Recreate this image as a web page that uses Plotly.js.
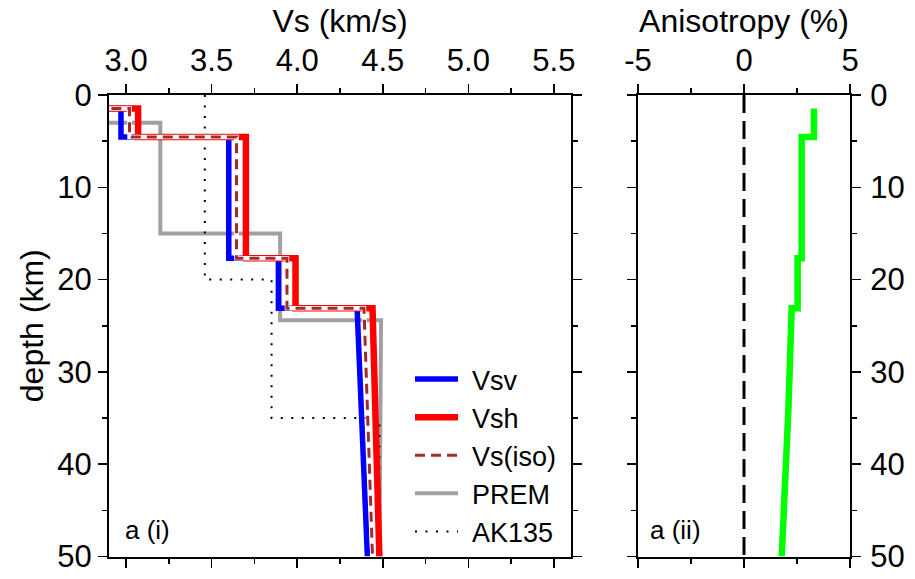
<!DOCTYPE html>
<html>
<head>
<meta charset="utf-8">
<script src="https://cdn.plot.ly/plotly-3.0.1.min.js"></script>
<style>
  html, body { margin: 0; padding: 0; background: #ffffff; }
  #chart { width: 915px; height: 579px; }
</style>
</head>
<body>
<div id="chart"></div>
<script>
// Layered shear-velocity model: each layer has a top depth and velocities at its top and bottom.
const layerTop   = [0, 1.45, 4.55, 17.7, 23.1];
const modelBase  = 50;
const vsvTop     = [0, 2.97, 3.60, 3.89, 4.35];
const vsvBottom  = [0, 2.97, 3.60, 3.89, 4.41];
const vshTop     = [0, 3.07, 3.70, 3.99, 4.44];
const vshBottom  = [0, 3.07, 3.70, 3.99, 4.48];
const visoTop    = [0, 3.02, 3.645, 3.94, 4.39];
const visoBottom = [0, 3.02, 3.645, 3.94, 4.44];

// Reference Earth models
const premTop    = [0, 3, 15, 24.4];
const premVsTop  = [0, 3.2, 3.9, 4.49];
const premVsBot  = [0, 3.2, 3.9, 4.48];
const akTop      = [0, 20, 35];
const akVs       = [3.46, 3.85, 4.48];

// Radial anisotropy (%) by layer
const anisoTop    = [1.45, 4.55, 17.7, 23.1, 34.3];
const anisoValTop = [3.30, 2.72, 2.53, 2.25, 2.09];
const anisoValBot = [3.30, 2.72, 2.53, 2.09, 1.78];
const isotropicRef = 0;

// Axis tick labels
const vsTicks      = [3.0, 3.5, 4.0, 4.5, 5.0, 5.5];
const vsTickText   = ['3.0', '3.5', '4.0', '4.5', '5.0', '5.5'];
const anisoTicks   = [-5, 0, 5];
const anisoTickText = ['-5', '0', '5'];
const depthTicks   = [0, 10, 20, 30, 40, 50];

// Turn a layered description into a staircase path (x = value, y = depth).
function staircase(tops, base, valTop, valBot) {
  const x = [], y = [];
  for (let i = 0; i < tops.length; i++) {
    const bottom = i + 1 < tops.length ? tops[i + 1] : base;
    x.push(valTop[i], valBot[i]);
    y.push(tops[i], bottom);
  }
  return { x, y };
}

const vsv  = staircase(layerTop, modelBase, vsvTop, vsvBottom);
const vsh  = staircase(layerTop, modelBase, vshTop, vshBottom);
const viso = staircase(layerTop, modelBase, visoTop, visoBottom);
const prem = staircase(premTop, modelBase, premVsTop, premVsBot);
const ak   = staircase(akTop, modelBase, akVs, akVs);
const aniso = staircase(anisoTop, modelBase, anisoValTop, anisoValBot);

const FONT = 'Liberation Sans, Arial, Helvetica, sans-serif';

const traces = [
  { x: prem.x, y: prem.y, mode: 'lines', name: 'PREM', legendrank: 4,
    line: { color: '#a0a0a0', width: 4 } },
  { x: ak.x, y: ak.y, mode: 'lines', name: 'AK135', legendrank: 5,
    line: { color: '#000000', width: 2, dash: '2px,8.5px' } },
  { x: vsv.x, y: vsv.y, mode: 'lines', name: 'Vsv', legendrank: 1,
    line: { color: '#0000ff', width: 5.5 } },
  { x: vsh.x, y: vsh.y, mode: 'lines', name: 'Vsh', legendrank: 2,
    line: { color: '#ff0000', width: 6.5 } },
  { x: viso.x, y: viso.y, mode: 'lines', showlegend: false, hoverinfo: 'skip',
    line: { color: '#ffffff', width: 4.5 } },
  { x: viso.x, y: viso.y, mode: 'lines', name: 'Vs(iso)', legendrank: 3,
    line: { color: '#a52a2a', width: 3, dash: '10px,6px' } },
  { x: [isotropicRef, isotropicRef], y: [0, modelBase], mode: 'lines', showlegend: false,
    xaxis: 'x2', yaxis: 'y2', line: { color: '#000000', width: 3, dash: '18px,8px' } },
  { x: aniso.x, y: aniso.y, mode: 'lines', showlegend: false,
    xaxis: 'x2', yaxis: 'y2', line: { color: '#00ff00', width: 6.5 } }
];

const W = 915, H = 579;
const minorTicks = (d) => ({ dtick: d, ticklen: 5, tickwidth: 1.5, ticks: 'outside', tickcolor: '#000000' });
const axisCommon = {
  showline: true, linewidth: 2, linecolor: '#000000', mirror: 'allticks',
  ticks: 'outside', ticklen: 9, tickwidth: 1.5, tickcolor: '#000000',
  showgrid: false, zeroline: false,
  tickfont: { family: FONT, size: 31, color: '#000000' }
};

const layout = {
  width: W, height: H,
  margin: { l: 0, r: 0, t: 0, b: 0 },
  paper_bgcolor: '#ffffff', plot_bgcolor: '#ffffff',
  showlegend: true,
  font: { family: FONT, color: '#000000' },
  xaxis: Object.assign({}, axisCommon, {
    domain: [109 / W, 571 / W], side: 'top', range: [2.9, 5.6],
    tickmode: 'array', tickvals: vsTicks, ticktext: vsTickText, ticklabelstandoff: 1,
    minor: minorTicks(0.25),
    title: { text: 'Vs (km/s)', font: { family: FONT, size: 32 }, standoff: 0 }
  }),
  yaxis: Object.assign({}, axisCommon, {
    domain: [1 - 556.5 / H, 1 - 95 / H], range: [50, 0],
    tickmode: 'array', tickvals: depthTicks, ticklabelstandoff: 0,
    minor: minorTicks(5),
    title: { text: 'depth (km)', font: { family: FONT, size: 32 }, standoff: 4 }
  }),
  xaxis2: Object.assign({}, axisCommon, {
    domain: [638 / W, 850 / W], side: 'top', range: [-5, 5],
    tickmode: 'array', tickvals: anisoTicks, ticktext: anisoTickText,
    anchor: 'y2', ticklabelstandoff: 1,
    minor: minorTicks(2.5),
    title: { text: 'Anisotropy (%)', font: { family: FONT, size: 32 }, standoff: 0 }
  }),
  yaxis2: Object.assign({}, axisCommon, {
    domain: [1 - 556.5 / H, 1 - 95 / H], range: [50, 0],
    tickmode: 'array', tickvals: depthTicks,
    anchor: 'x2', side: 'right', ticklabelstandoff: 3,
    minor: minorTicks(5)
  }),
  legend: {
    x: 410 / W, y: 1 - 355 / H, xanchor: 'left', yanchor: 'top',
    bgcolor: 'rgba(0,0,0,0)', borderwidth: 0,
    font: { family: FONT, size: 27, color: '#000000' },
    itemwidth: 52, tracegroupgap: 0
  },
  annotations: [
    { text: 'a (i)', xref: 'paper', yref: 'paper', x: 123 / W, y: 1 - 530 / H,
      xanchor: 'left', yanchor: 'middle', showarrow: false,
      font: { family: FONT, size: 26, color: '#000000' } },
    { text: 'a (ii)', xref: 'paper', yref: 'paper', x: 648 / W, y: 1 - 530 / H,
      xanchor: 'left', yanchor: 'middle', showarrow: false,
      font: { family: FONT, size: 26, color: '#000000' } }
  ]
};

Plotly.newPlot('chart', traces, layout, { displayModeBar: false, staticPlot: true }).then(function (gd) {
  // Longer legend line samples
  gd.querySelectorAll('.legend .legendlines path').forEach(function (p) {
    p.setAttribute('d', 'M5,0h43');
  });
});
</script>
</body>
</html>
